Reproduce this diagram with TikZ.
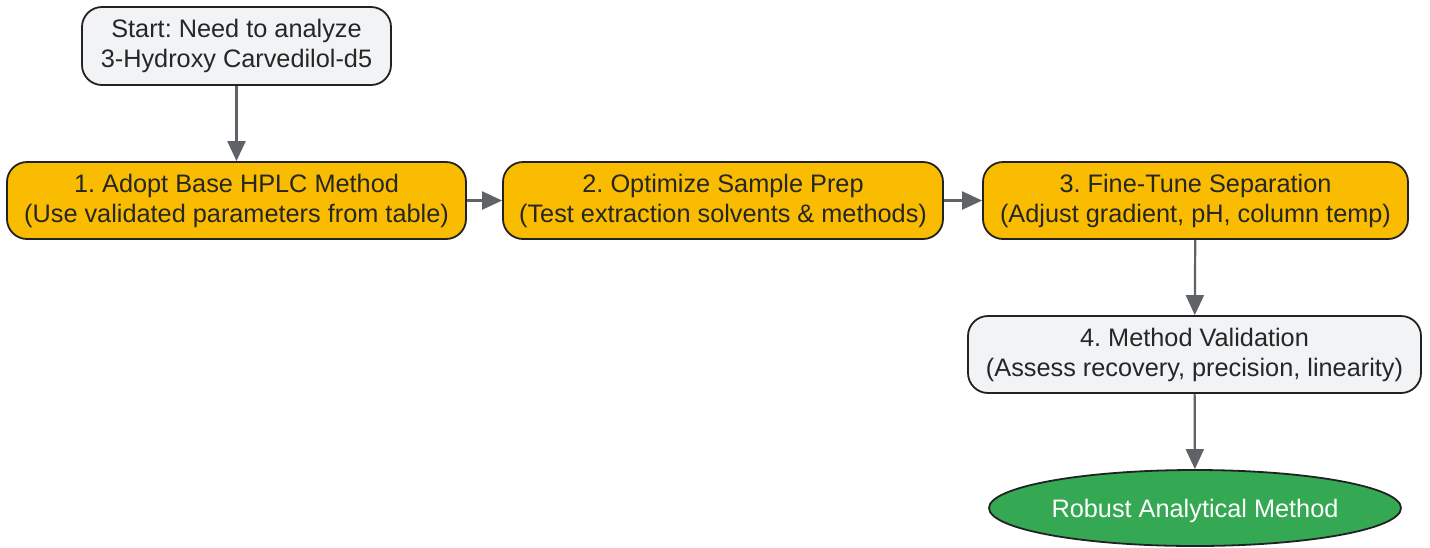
\documentclass[tikz,border=0pt]{standalone}
\usepackage{fontspec}
\setmainfont{Liberation Sans}
\usetikzlibrary{shapes.geometric,arrows.meta}
\definecolor{boxgray}{HTML}{F1F3F5}
\definecolor{boxorange}{HTML}{F9BC00}
\definecolor{boxgreen}{HTML}{34A853}
\definecolor{edgegray}{HTML}{5F6368}
\definecolor{linedark}{HTML}{222222}
\tikzset{
  proc/.style={draw=linedark, line width=1.8pt, rounded corners=20pt, align=center,
    font=\frenchspacing\fontsize{25.3}{30}\selectfont, text=black!85, inner sep=0pt,
    execute at begin node={\rule{0pt}{27.5pt}}},
  graybox/.style={proc, fill=boxgray},
  orangebox/.style={proc, fill=boxorange},
  endell/.style={ellipse, draw=linedark, line width=1.8pt, fill=boxgreen, text=white,
    font=\frenchspacing\fontsize{25.3}{30}\selectfont, inner sep=0pt,
    execute at begin node={\rule{0pt}{24.5pt}}},
  conn/.style={draw=edgegray, line width=2.2pt, -{Triangle[length=20pt,width=18pt]}}
}
\begin{document}
\frenchspacing
\begin{tikzpicture}[x=1pt,y=-1pt]
\useasboundingbox (0,0) rectangle (1430,547);
\node[graybox, minimum width=309pt, minimum height=78pt] (start) at (236.5,46) {Start: Need to analyze\\3-Hydroxy Carvedilol-d5};
\node[orangebox, minimum width=459pt, minimum height=77pt] (s1) at (236.5,200.5) {1. Adopt Base HPLC Method\\(Use validated parameters from table)};
\node[orangebox, minimum width=440pt, minimum height=77pt] (s2) at (723,200.5) {2. Optimize Sample Prep\\(Test extraction solvents \& methods)};
\node[orangebox, minimum width=425pt, minimum height=77pt] (s3) at (1195.5,200.5) {3. Fine-Tune Separation\\(Adjust gradient, pH, column temp)};
\node[graybox, minimum width=453pt, minimum height=77pt] (s4) at (1194.5,354.5) {4. Method Validation\\(Assess recovery, precision, linearity)};
\node[endell, minimum width=412pt, minimum height=76pt] (end) at (1195,508) {Robust Analytical Method};
\draw[conn] (start) -- (s1);
\draw[conn] (s1) -- (s2);
\draw[conn] (s2) -- (s3);
\draw[conn] (s3) -- (s4);
\draw[conn] (s4) -- (end);
\end{tikzpicture}
\end{document}
